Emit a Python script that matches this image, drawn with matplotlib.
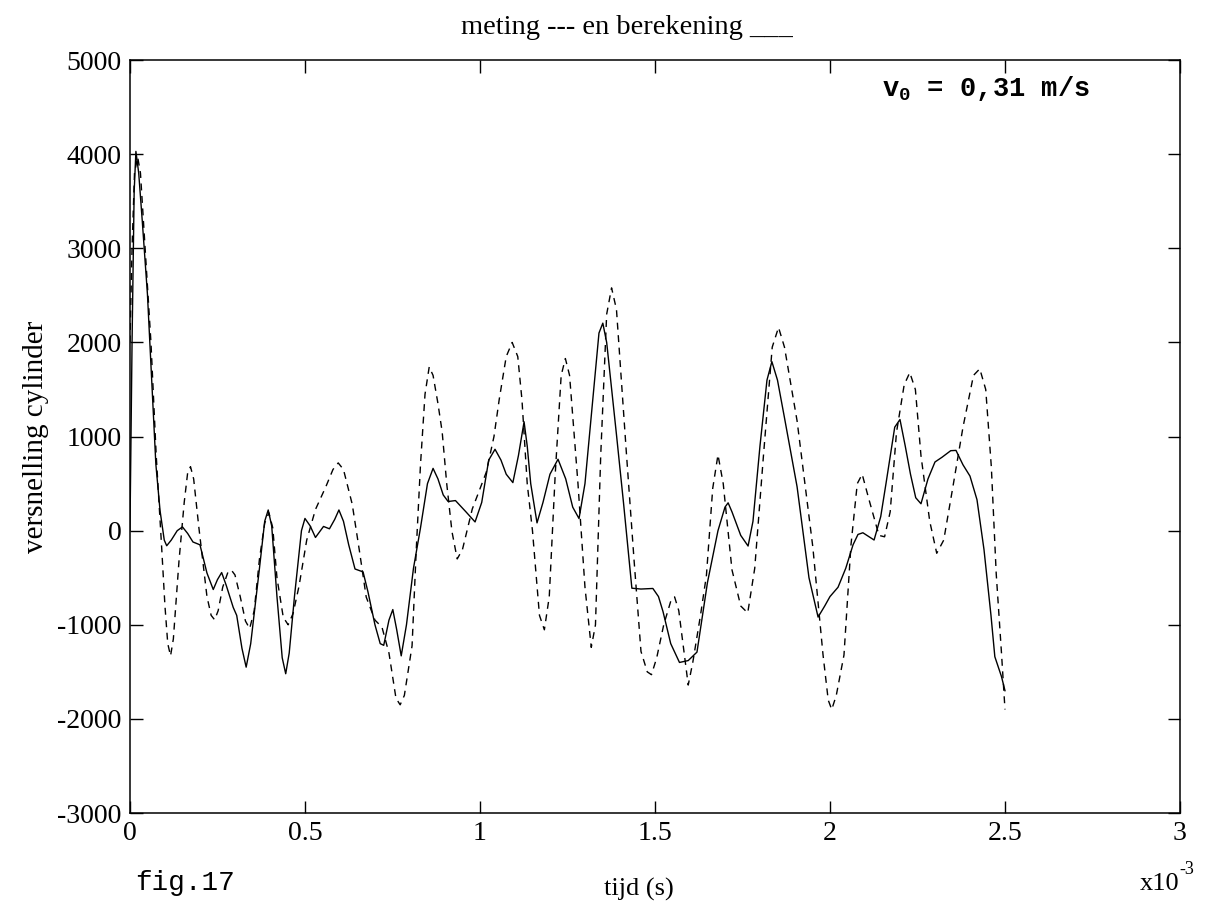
import numpy as np
import matplotlib
matplotlib.use("Agg")
import matplotlib.pyplot as plt

plt.rcParams["axes.unicode_minus"] = False
plt.rcParams["mathtext.fontset"] = "custom"
plt.rcParams["mathtext.rm"] = "Liberation Mono:bold"
plt.rcParams["mathtext.bf"] = "Liberation Mono:bold"

# berekening (solid), t in ms
t_ber = [0.000, 0.006, 0.012, 0.017, 0.025, 0.035, 0.050, 0.074, 0.086, 0.098,
         0.105, 0.118, 0.135, 0.150, 0.165, 0.180, 0.200, 0.220, 0.238, 0.250,
         0.262, 0.275, 0.295, 0.305, 0.320, 0.332, 0.345, 0.370, 0.385, 0.395,
         0.405, 0.420, 0.435, 0.445, 0.455, 0.470, 0.490, 0.500, 0.515, 0.530,
         0.553, 0.570, 0.585, 0.597, 0.610, 0.625, 0.643, 0.666, 0.680, 0.700,
         0.715, 0.725, 0.740, 0.751, 0.762, 0.775, 0.790, 0.810, 0.830, 0.850,
         0.866, 0.880, 0.895, 0.909, 0.930, 0.960, 0.986, 1.005, 1.025, 1.043,
         1.060, 1.075, 1.094, 1.110, 1.126, 1.135, 1.145, 1.163, 1.180, 1.200,
         1.223, 1.245, 1.265, 1.283, 1.300, 1.320, 1.340, 1.351, 1.362, 1.390,
         1.410, 1.434, 1.460, 1.494, 1.510, 1.523, 1.545, 1.570, 1.595, 1.620,
         1.650, 1.680, 1.700, 1.709, 1.720, 1.745, 1.766, 1.780, 1.800, 1.820,
         1.834, 1.850, 1.870, 1.906, 1.940, 1.966, 1.985, 2.000, 2.023, 2.045,
         2.066, 2.080, 2.094, 2.110, 2.126, 2.145, 2.160, 2.185, 2.200, 2.215,
         2.230, 2.245, 2.260, 2.280, 2.300, 2.320, 2.345, 2.360, 2.380, 2.400,
         2.420, 2.440, 2.460, 2.471, 2.490, 2.500]
a_ber = [0, 2000, 3600, 4030, 3800, 3300, 2510, 707, 212, -100,
         -160, -100, 0, 40, -30, -120, -150, -450, -625, -520,
         -445, -580, -815, -900, -1250, -1450, -1200, -400, 100, 220,
         50, -700, -1350, -1520, -1300, -700, 0, 130, 50, -72,
         45, 20, 120, 220, 100, -150, -407, -438, -650, -1000,
         -1200, -1218, -950, -838, -1050, -1330, -1000, -400, 28, 500,
         662, 550, 380, 310, 320, 200, 93, 300, 750, 865,
         750, 600, 511, 800, 1157, 900, 500, 83, 300, 600,
         759, 550, 250, 129, 500, 1300, 2100, 2205, 2000, 1020,
         300, -611, -620, -614, -700, -860, -1200, -1400, -1380, -1290,
         -550, 0, 250, 296, 200, -50, -163, 100, 900, 1600,
         1796, 1600, 1200, 467, -500, -918, -800, -700, -601, -400,
         -149, -40, -22, -60, -99, 150, 500, 1100, 1181, 900,
         600, 350, 286, 550, 730, 780, 850, 853, 700, 580,
         329, -200, -900, -1339, -1550, -1700]

# meting (dashed)
t_met = [0.000, 0.006, 0.013, 0.022, 0.030, 0.045, 0.060, 0.075, 0.090, 0.100,
         0.108, 0.116, 0.124, 0.140, 0.155, 0.165, 0.173, 0.182, 0.197, 0.220,
         0.232, 0.242, 0.252, 0.265, 0.280, 0.290, 0.300, 0.315, 0.330, 0.342,
         0.355, 0.370, 0.385, 0.397, 0.408, 0.420, 0.438, 0.452, 0.466, 0.483,
         0.505, 0.530, 0.560, 0.580, 0.595, 0.610, 0.635, 0.655, 0.675, 0.700,
         0.720, 0.740, 0.760, 0.772, 0.784, 0.806, 0.818, 0.830, 0.843, 0.855,
         0.866, 0.880, 0.892, 0.905, 0.920, 0.935, 0.950, 0.978, 1.018, 1.040,
         1.055, 1.075, 1.092, 1.108, 1.120, 1.135, 1.150, 1.170, 1.184, 1.198,
         1.215, 1.232, 1.244, 1.256, 1.280, 1.300, 1.318, 1.330, 1.345, 1.362,
         1.376, 1.390, 1.418, 1.440, 1.460, 1.478, 1.490, 1.505, 1.525, 1.545,
         1.556, 1.568, 1.595, 1.608, 1.630, 1.647, 1.665, 1.680, 1.695, 1.720,
         1.745, 1.765, 1.785, 1.810, 1.835, 1.853, 1.870, 1.906, 1.951, 1.980,
         1.995, 2.005, 2.018, 2.040, 2.060, 2.078, 2.092, 2.110, 2.140, 2.156,
         2.172, 2.190, 2.212, 2.228, 2.244, 2.260, 2.285, 2.305, 2.325, 2.350,
         2.380, 2.410, 2.428, 2.445, 2.461, 2.475, 2.490, 2.500]
a_met = [2000, 3000, 3800, 3970, 3800, 2900, 2000, 800, -140, -800,
         -1200, -1330, -1150, -327, 300, 620, 680, 550, 30, -700,
         -900, -947, -850, -600, -440, -420, -470, -700, -960, -1040,
         -850, -300, 80, 190, 30, -500, -920, -1000, -880, -590,
         -100, 225, 470, 650, 720, 650, 282, -200, -705, -950,
         -1025, -1300, -1780, -1850, -1750, -1223, -200, 697, 1450, 1740,
         1650, 1350, 1050, 500, -10, -300, -200, 230, 621, 1000,
         1394, 1850, 2000, 1850, 1390, 500, 0, -900, -1053, -700,
         600, 1650, 1829, 1650, 500, -600, -1240, -1000, 800, 2300,
         2580, 2350, 843, -300, -1282, -1500, -1530, -1350, -1000, -750,
         -703, -850, -1640, -1400, -900, -475, 450, 806, 500, -416,
         -800, -874, -400, 800, 1950, 2160, 1950, 1167, -174, -1314,
         -1800, -1900, -1750, -1321, -150, 500, 600, 350, -50, -65,
         200, 1044, 1550, 1680, 1500, 796, 100, -240, -100, 440,
         1100, 1650, 1720, 1500, 678, -460, -1300, -1900]

x_ticks = [0, 0.5, 1, 1.5, 2, 2.5, 3]
x_labels = ["0", "0.5", "1", "1.5", "2", "2.5", "3"]
y_ticks = [-3000, -2000, -1000, 0, 1000, 2000, 3000, 4000, 5000]

serif = ["Liberation Serif", "DejaVu Serif"]
mono = ["Liberation Mono", "DejaVu Sans Mono"]

fig = plt.figure(figsize=(12.1, 9.16), dpi=100)
ax = fig.add_axes([0.1074, 0.1124, 0.8678, 0.822])

ax.plot(t_met, a_met, color="black", lw=1.0, linestyle=(0, (5, 4)))
ax.plot(t_ber, a_ber, color="black", lw=1.0)

ax.set_xlim(0, 3)
ax.set_ylim(-3000, 5000)
ax.set_xticks(x_ticks)
ax.set_xticklabels(x_labels)
ax.set_yticks(y_ticks)
ax.tick_params(direction="in", length=9, width=1, top=True, right=True,
               labelsize=20, pad=6)
for lab in ax.get_xticklabels() + ax.get_yticklabels():
    lab.set_family(serif)
for s in ax.spines.values():
    s.set_linewidth(1.1)

ax.set_ylabel("versnelling cylinder", family=serif, fontsize=21, labelpad=6)
fig.text(0.528, 0.022, "tijd (s)", family=serif, fontsize=19, ha="center")
fig.text(0.518, 0.963, "meting --- en berekening ___", family=serif,
         fontsize=20.5, ha="center")
fig.text(0.112, 0.028, "fig.17", family=mono, fontsize=20)
fig.text(0.942, 0.028, "x10", family=serif, fontsize=19)
fig.text(0.975, 0.046, "-3", family=serif, fontsize=13)
ax.text(2.15, 4700, r"v$_0$ = 0,31 m/s", family=mono, fontsize=19.5,
        fontweight="bold", va="center")

fig.savefig("out.png", dpi=100)
